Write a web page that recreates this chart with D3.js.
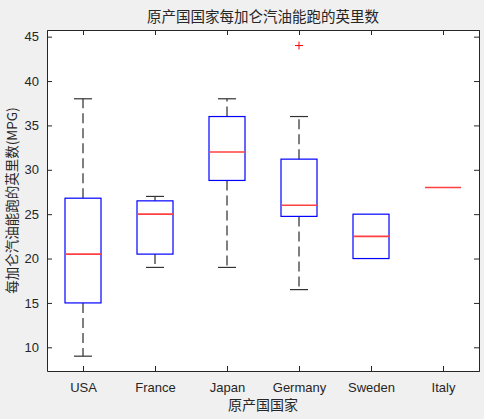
<!DOCTYPE html>
<html>
<head>
<meta charset="utf-8">
<script src="https://cdn.jsdelivr.net/npm/d3@7"></script>
<style>
  body { margin: 0; background: #f0f0f0; }
  svg { display: block; }
</style>
</head>
<body>
<script>
// data
var countries = ["USA", "France", "Japan", "Germany", "Sweden", "Italy"];
var whiskerLow  = [9,    19,   19,   16.5,  20,   28];
var q1          = [15,   20.5, 28.8, 24.75, 20,   28];
var median      = [20.5, 25,   32,   26,    22.5, 28];
var q3          = [26.8, 26.5, 36,   31.2,  25,   28];
var whiskerHigh = [38,   27,   38,   36,    25,   28];
var outliers    = [[], [], [], [44], [], []];
var yTicks = [10, 15, 20, 25, 30, 35, 40, 45];

var W = 484, H = 419;
var margin = { top: 30, right: 5, bottom: 48, left: 47 };
var width = W - margin.left - margin.right,
  height = H - margin.top - margin.bottom;

var svg = d3.select("body").append("svg")
  .attr("width", W)
  .attr("height", H)
  .style("font-family", "Arial, 'Liberation Sans', sans-serif");

var g = svg.append("g")
  .attr("transform", "translate(" + margin.left + "," + margin.top + ")");

g.append("rect")
  .attr("width", width)
  .attr("height", height)
  .attr("fill", "white");

var x = d3.scaleLinear().domain([0.5, 6.5]).range([0, width]);
var y = d3.scaleLinear().domain([7.33, 45.75]).range([height, 0]);

var pos = countries.map(function (d, i) { return i + 1; });
var boxHalf = 0.25, capHalf = 0.125;

// axes
var xAxis = d3.axisBottom(x).tickValues(pos)
  .tickFormat(function (d) { return countries[d - 1]; })
  .tickSizeInner(-5).tickSizeOuter(0).tickPadding(12);
var yAxis = d3.axisLeft(y).tickValues(yTicks)
  .tickSizeInner(-5).tickSizeOuter(0).tickPadding(8);

var gx = g.append("g").attr("transform", "translate(0," + height + ")").call(xAxis);
var gy = g.append("g").call(yAxis);
// top and right lines with ticks
g.append("g").call(d3.axisTop(x).tickValues(pos).tickSize(-5).tickFormat(""));
g.append("g").attr("transform", "translate(" + width + ",0)")
  .call(d3.axisRight(y).tickValues(yTicks).tickSize(-5).tickFormat(""));

g.selectAll(".domain").attr("stroke", "#262626");
g.selectAll(".tick line").attr("stroke", "#262626");
[gx, gy].forEach(function (a) {
  a.selectAll("text").attr("fill", "#262626").style("font-size", "13px");
});

// boxes
for (let i = 0; i < countries.length; i++) {
  let cx = x(pos[i]);
  let bx = x(pos[i] - boxHalf), bw = x(pos[i] + boxHalf) - bx;
  let cl = x(pos[i] - capHalf), cr = x(pos[i] + capHalf);

  if (whiskerHigh[i] > q3[i]) {
    g.append("line").attr("x1", cx).attr("x2", cx)
      .attr("y1", y(q3[i])).attr("y2", y(whiskerHigh[i]))
      .attr("stroke", "#555").attr("stroke-width", 1.5)
      .attr("stroke-dasharray", "10,5");
    g.append("line").attr("x1", cl).attr("x2", cr)
      .attr("y1", y(whiskerHigh[i])).attr("y2", y(whiskerHigh[i]))
      .attr("stroke", "#333").attr("stroke-width", 1.2);
  }
  if (whiskerLow[i] < q1[i]) {
    g.append("line").attr("x1", cx).attr("x2", cx)
      .attr("y1", y(q1[i])).attr("y2", y(whiskerLow[i]))
      .attr("stroke", "#555").attr("stroke-width", 1.5)
      .attr("stroke-dasharray", "10,5");
    g.append("line").attr("x1", cl).attr("x2", cr)
      .attr("y1", y(whiskerLow[i])).attr("y2", y(whiskerLow[i]))
      .attr("stroke", "#333").attr("stroke-width", 1.2);
  }
  if (q3[i] > q1[i]) {
    g.append("rect")
      .attr("x", bx).attr("y", y(q3[i]))
      .attr("width", bw).attr("height", y(q1[i]) - y(q3[i]))
      .attr("fill", "none").attr("stroke", "#0000ff").attr("stroke-width", 1.2);
  }
  g.append("line").attr("x1", bx).attr("x2", bx + bw)
    .attr("y1", y(median[i])).attr("y2", y(median[i]))
    .attr("stroke", "#ff4040").attr("stroke-width", 1.6);

  outliers[i].forEach(function (v) {
    g.append("path")
      .attr("d", "M" + (cx - 4) + "," + y(v) + "h8M" + cx + "," + (y(v) - 4) + "v8")
      .attr("stroke", "#ff0000").attr("stroke-width", 1);
  });
}

// texts
svg.append("text")
  .attr("x", margin.left + width / 2).attr("y", 22)
  .attr("text-anchor", "middle")
  .style("font-family", "'Noto Sans CJK SC', sans-serif")
  .style("font-size", "14.5px").attr("fill", "#262626")
  .text("原产国国家每加仑汽油能跑的英里数");

svg.append("text")
  .attr("x", margin.left + width / 2).attr("y", 410)
  .attr("text-anchor", "middle")
  .style("font-family", "'Noto Sans CJK SC', sans-serif")
  .style("font-size", "14px").attr("fill", "#262626")
  .text("原产国国家");

svg.append("text")
  .attr("transform", "translate(17," + (margin.top + height / 2) + ") rotate(-90)")
  .attr("text-anchor", "middle")
  .style("font-family", "'Noto Sans CJK SC', sans-serif")
  .style("font-size", "13.5px").attr("fill", "#262626")
  .text("每加仑汽油能跑的英里数(MPG)");
</script>
</body>
</html>
